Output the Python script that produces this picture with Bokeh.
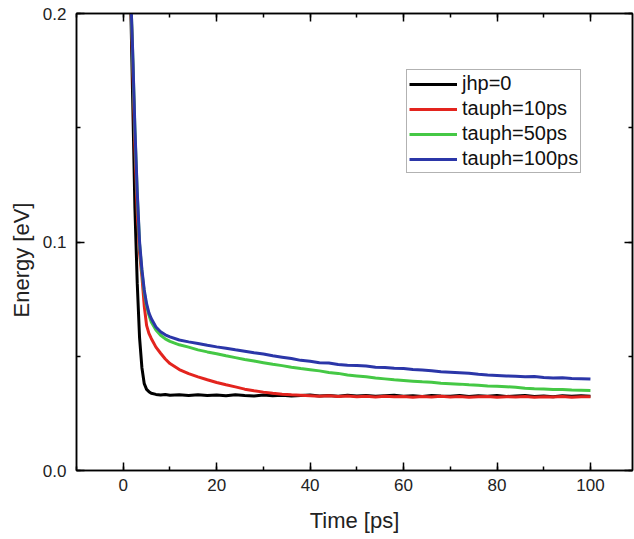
from bokeh.plotting import figure
from bokeh.models import (Range1d, LinearAxis, SingleIntervalTicker, PrintfTickFormatter,
                          Legend, LegendItem, Title)
from bokeh.embed import file_html
from bokeh.resources import INLINE

# ---------------- data ----------------
time_ps = [1.5, 2.0, 2.5, 3.0, 3.5, 4.0, 4.5, 5.0, 5.5, 6.0, 7, 8, 9, 10,
           12, 14, 16, 18, 20, 22, 24, 26, 28, 30, 32, 34, 36, 38, 40,
           42, 44, 46, 48, 50, 52, 54, 56, 58, 60, 62, 64, 66, 68, 70,
           72, 74, 76, 78, 80, 82, 84, 86, 88, 90, 92, 94, 96, 98, 100]

jhp0 = [0.215, 0.165, 0.115, 0.082, 0.058, 0.045, 0.038, 0.0355, 0.0345, 0.0338,
        0.0333, 0.0330, 0.0333, 0.0329, 0.0331, 0.0328, 0.0332, 0.0328, 0.0330,
        0.0327, 0.0331, 0.0328, 0.0326, 0.0330, 0.0327, 0.0329, 0.0326, 0.0328,
        0.0330, 0.0326, 0.0328, 0.0325, 0.0329, 0.0326, 0.0328, 0.0325, 0.0327,
        0.0329, 0.0325, 0.0327, 0.0324, 0.0328, 0.0326, 0.0325, 0.0328, 0.0324,
        0.0327, 0.0325, 0.0328, 0.0324, 0.0326, 0.0328, 0.0324, 0.0326, 0.0323,
        0.0327, 0.0325, 0.0327, 0.0325]

tauph10 = [0.215, 0.180, 0.142, 0.113, 0.095, 0.085, 0.072, 0.0635, 0.0600, 0.0578,
           0.0540, 0.0513, 0.0488, 0.0468, 0.0442, 0.0424, 0.0410, 0.0397, 0.0385,
           0.0375, 0.0366, 0.0356, 0.0349, 0.0343, 0.0338, 0.0334, 0.0331, 0.0329,
           0.0327, 0.0325, 0.0327, 0.0324, 0.0326, 0.0323, 0.0325, 0.0322, 0.0325,
           0.0323, 0.0324, 0.0321, 0.0324, 0.0322, 0.0325, 0.0322, 0.0324, 0.0321,
           0.0323, 0.0324, 0.0321, 0.0323, 0.0322, 0.0324, 0.0321, 0.0323, 0.0322,
           0.0324, 0.0321, 0.0323, 0.0323]

tauph50 = [0.215, 0.184, 0.149, 0.121, 0.099, 0.087, 0.078, 0.072, 0.068, 0.065,
           0.0615, 0.0592, 0.0576, 0.0565, 0.0550, 0.0540, 0.0528, 0.0519, 0.0511,
           0.0502, 0.0494, 0.0486, 0.0479, 0.0472, 0.0465, 0.0459, 0.0452, 0.0446,
           0.0441, 0.0436, 0.0429, 0.0425, 0.0418, 0.0414, 0.0410, 0.0405, 0.0401,
           0.0397, 0.0394, 0.0391, 0.0388, 0.0386, 0.0382, 0.0380, 0.0378, 0.0375,
           0.0373, 0.0370, 0.0369, 0.0367, 0.0364, 0.0360, 0.0358, 0.0357, 0.0355,
           0.0354, 0.0352, 0.0351, 0.0350]

tauph100 = [0.215, 0.185, 0.150, 0.122, 0.100, 0.088, 0.079, 0.073, 0.069, 0.0665,
            0.0628, 0.0607, 0.0594, 0.0585, 0.0571, 0.0563, 0.0556, 0.0548, 0.0541,
            0.0535, 0.0528, 0.0522, 0.0515, 0.0510, 0.0502, 0.0496, 0.0490, 0.0482,
            0.0478, 0.0472, 0.0470, 0.0464, 0.0461, 0.0459, 0.0457, 0.0452, 0.0451,
            0.0447, 0.0446, 0.0442, 0.0440, 0.0437, 0.0432, 0.0430, 0.0428, 0.0426,
            0.0421, 0.0418, 0.0416, 0.0414, 0.0412, 0.0410, 0.0411, 0.0407, 0.0405,
            0.0406, 0.0403, 0.0402, 0.0400]

series_names = ["jhp=0", "tauph=10ps", "tauph=50ps", "tauph=100ps"]
series_values = [jhp0, tauph10, tauph50, tauph100]
series_colors = ["#000000", "#e3241e", "#45c845", "#2b36a8"]

x_label = "Time [ps]"
y_label = "Energy [eV]"

# ---------------- figure ----------------
FONT = "Liberation Sans"

p = figure(width=634, height=539, output_backend="svg", toolbar_location=None,
           x_range=Range1d(-10, 109), y_range=Range1d(0, 0.2),
           min_border_left=75, min_border_right=2, min_border_top=13,
           min_border_bottom=69, background_fill_color="white",
           border_fill_color="white", x_axis_type=None, y_axis_type=None)
p.grid.visible = False
p.outline_line_color = "black"
p.outline_line_width = 1.5


def style_axis(ax, labels=True):
    ax.axis_line_color = "black"
    ax.axis_line_width = 1.5
    ax.major_tick_in = 8
    ax.major_tick_out = 0
    ax.minor_tick_in = 4
    ax.minor_tick_out = 0
    ax.major_tick_line_width = 1.5
    ax.minor_tick_line_width = 1.5
    ax.major_tick_line_color = "black"
    ax.minor_tick_line_color = "black"
    if labels:
        ax.major_label_text_font = FONT
        ax.major_label_text_font_size = "17px"
        ax.major_label_text_color = "#222222"
        ax.axis_label_text_font = FONT
        ax.axis_label_text_font_size = "22px"
        ax.axis_label_text_font_style = "normal"
        ax.axis_label_text_color = "#222222"
    else:
        ax.major_label_text_font_size = "1px"
        ax.major_label_text_color = None
        ax.major_label_standoff = 0
        ax.axis_label = None


xb = LinearAxis(ticker=SingleIntervalTicker(interval=20, num_minor_ticks=2),
                axis_label=x_label)
style_axis(xb)
xb.major_label_standoff = 8
xb.axis_label_standoff = 14
p.add_layout(xb, "below")

yl = LinearAxis(ticker=SingleIntervalTicker(interval=0.1, num_minor_ticks=2),
                formatter=PrintfTickFormatter(format="%.1f"))
style_axis(yl)
yl.major_label_standoff = 10
p.add_layout(yl, "left")

xt = LinearAxis(ticker=SingleIntervalTicker(interval=20, num_minor_ticks=2))
style_axis(xt, labels=False)
p.add_layout(xt, "above")

yr = LinearAxis(ticker=SingleIntervalTicker(interval=0.1, num_minor_ticks=2))
style_axis(yr, labels=False)
p.add_layout(yr, "right")

# y-axis title, a little below the frame centre as in the reference
ytitle = Title(text=y_label, align="left", offset=153, standoff=12,
               text_font=FONT, text_font_size="22px", text_font_style="normal",
               text_color="#222222")
p.add_layout(ytitle, "left")

items = []
for name, vals, col in zip(series_names, series_values, series_colors):
    r = p.line(time_ps, vals, line_color=col, line_width=3)
    items.append(LegendItem(label=name, renderers=[r]))

legend = Legend(items=items, location=(330, 297))
legend.label_text_font = FONT
legend.label_text_font_size = "20px"
legend.label_text_color = "#111111"
legend.glyph_width = 48
legend.glyph_height = 22
legend.label_height = 22
legend.label_standoff = 5
legend.spacing = 2
legend.padding = 2
legend.margin = 0
legend.border_line_color = "#666666"
legend.border_line_width = 1
legend.background_fill_color = "white"
legend.background_fill_alpha = 1.0
p.add_layout(legend, "center")

open("out.html", "w").write(file_html(p, INLINE))
